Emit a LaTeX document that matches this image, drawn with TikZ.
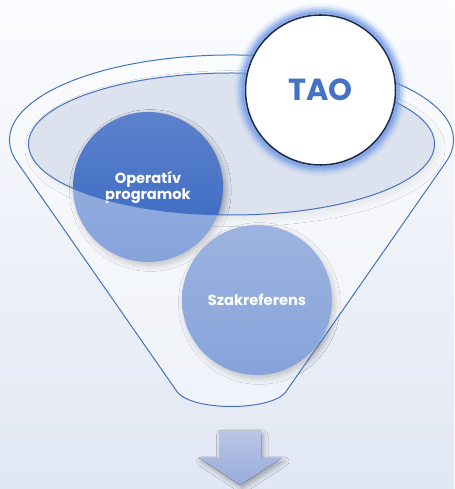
\documentclass[tikz,border=0pt]{standalone}
\usepackage{fontspec}
\newfontfamily\gothic{Poppins}
\usetikzlibrary{calc, positioning, shadows.blur}

\definecolor{bgtop}{HTML}{FBFCFE}
\definecolor{bgbot}{HTML}{E1E7F3}
\definecolor{rimfill}{HTML}{DCE2EE}
\definecolor{lineblue}{HTML}{4472C4}
\definecolor{balltop}{HTML}{5D82CC}
\definecolor{ballbot}{HTML}{3566C2}
\definecolor{taoring}{HTML}{1C2B4A}
\definecolor{glowblue}{HTML}{6E98E6}
\definecolor{arrtop}{HTML}{B9C6E7}
\definecolor{arrbot}{HTML}{97AADA}

\begin{document}
\begin{tikzpicture}[x=0.03cm, y=0.03cm,
    ball/.style={circle, minimum size=4.5cm, inner sep=0pt, align=center,
        top color=balltop, bottom color=ballbot, text=white,
        font=\gothic\fontsize{12.5}{13.6}\selectfont\bfseries,
        blur shadow={shadow xshift=2pt, shadow yshift=-3pt, shadow blur radius=5pt, shadow opacity=35}},
    taoball/.style={circle, minimum size=4.5cm, inner sep=0pt, fill=white,
        draw=taoring, line width=1.3pt, text=lineblue,
        font=\gothic\fontsize{26}{30}\selectfont\bfseries},
    funnelline/.style={draw=lineblue, line width=0.85pt}]
    % tolcser: hatter, perem, golyok, elol attetszo fal
    \shade[top color=bgtop, bottom color=bgbot] (0,0) rectangle (454,489);
    \useasboundingbox (0,0) rectangle (454,489);

    \coordinate (RimC) at (231.5,349);
    \coordinate (InC) at (231.5,345);
    \coordinate (TopL) at ($(RimC)+(195:222 and 85)$);
    \coordinate (BotL) at (178,96);
    \coordinate (BotR) at (285,96);

    \fill[rimfill, blur shadow={shadow xshift=3pt, shadow yshift=-4pt, shadow blur radius=6pt, shadow opacity=12}]
        (InC) ellipse [x radius=203, y radius=71];

    \node[ball] (opprog) at (148,302) {Operatív\\programok};
    \node[ball] (szakref) at (257,189) {Szakreferens};

    \fill[white, opacity=0.4, even odd rule]
        (TopL) arc[start angle=195, end angle=-15, x radius=222, y radius=85]
        -- (BotR) .. controls (268,78) and (195,78) .. (BotL) -- cycle
        (InC) ellipse [x radius=203, y radius=71];

    \draw[funnelline]
        (TopL) arc[start angle=195, end angle=-15, x radius=222, y radius=85]
        -- (BotR) .. controls (268,78) and (195,78) .. (BotL) -- cycle;
    \draw[funnelline] (InC) ellipse [x radius=203, y radius=71];

    \coordinate (TaoC) at (320.5,399);
    \foreach \r/\o in {85/0.08, 83/0.16, 81.5/0.26, 80/0.38, 78.5/0.55, 77/0.75}
        \draw[glowblue, opacity=\o, line width=2pt] (TaoC) circle [radius=\r];
    \node[taoball] (tao) at (TaoC) {TAO};

    \coordinate (ArrTip) at (240,4);
    \filldraw[top color=arrtop, bottom color=arrbot, draw=none,
        blur shadow={shadow xshift=2pt, shadow yshift=-3pt, shadow blur radius=4pt, shadow opacity=30}]
        (219,58) -- (261,58) -- (261,31) -- (282,31) -- (ArrTip) -- (199,31) -- (219,31) -- cycle;
\end{tikzpicture}
\end{document}
